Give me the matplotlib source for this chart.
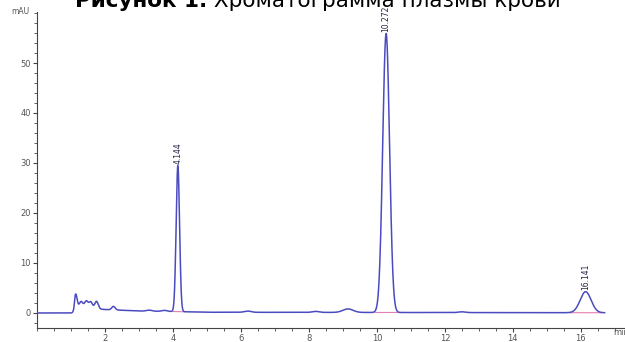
"""Chromatogram of blood plasma (HPLC trace with three labelled peaks)."""

import matplotlib
matplotlib.use("Agg")
import matplotlib.pyplot as plt
import matplotlib.ticker as mticker
import numpy as np

# ---------------------------------------------------------------------------
# Data
# ---------------------------------------------------------------------------
# labelled peaks: retention time (min), height (mAU), width sigma (min)
PEAK_TIMES   = [4.144, 10.272, 16.141]
PEAK_HEIGHTS = [29.2, 55.8, 4.2]
PEAK_SIGMAS  = [0.05, 0.10, 0.16]
PEAK_LABELS  = ["4.144", "10.272", "16.141"]
# integration baseline ends under each peak (min)
BASE_STARTS  = [4.00, 9.95, 15.70]
BASE_ENDS    = [4.32, 10.62, 16.60]

# small unlabelled bumps near the solvent front and along the baseline
BUMP_TIMES   = [1.14, 1.30, 1.45, 1.58, 1.75, 2.25, 3.30, 3.75, 6.20, 8.20, 9.15, 12.50]
BUMP_HEIGHTS = [2.6, 1.2, 1.4, 1.3, 1.5, 0.7, 0.2, 0.2, 0.25, 0.2, 0.7, 0.15]
BUMP_SIGMAS  = [0.04, 0.05, 0.05, 0.05, 0.05, 0.05, 0.08, 0.08, 0.1, 0.1, 0.15, 0.1]

# slowly decaying baseline offset after the injection (time, mAU)
DRIFT_TIMES  = [0.0, 1.08, 1.12, 2.0, 3.0, 4.0, 5.0, 17.0]
DRIFT_VALUES = [0.0, 0.0, 1.2, 0.7, 0.4, 0.3, 0.15, 0.05]

TITLE_BOLD = "Рисунок 1."
TITLE_REST = " Хроматограмма плазмы крови"

LINE_COLOR = "#4b4bc0"
BASE_COLOR = "#e67fb0"
TICK_COLOR = "#444444"


def trace(t):
    y = np.interp(t, DRIFT_TIMES, DRIFT_VALUES)
    for c, h, s in zip(PEAK_TIMES + BUMP_TIMES,
                       PEAK_HEIGHTS + BUMP_HEIGHTS,
                       PEAK_SIGMAS + BUMP_SIGMAS):
        y = y + h * np.exp(-0.5 * ((t - c) / s) ** 2)
    return y


def main() -> None:
    fig = plt.figure(figsize=(6.25, 3.42), dpi=100)
    ax = fig.add_axes([37 / 625, 1 - 328 / 342, 1 - 37 / 625, (328 - 12) / 342])

    t = np.linspace(0, 16.7, 6000)
    y = trace(t)
    ax.plot(t, y, color=LINE_COLOR, linewidth=1.1, zorder=3)

    # integration baselines and peak labels
    for t0, t1, pt, lab in zip(BASE_STARTS, BASE_ENDS, PEAK_TIMES, PEAK_LABELS):
        ax.plot([t0, t1], np.interp([t0, t1], DRIFT_TIMES, DRIFT_VALUES),
                color=BASE_COLOR, linewidth=0.8, zorder=2)
        top = float(trace(np.array([pt]))[0])
        ax.text(pt, top + 0.3, lab, rotation=90, ha="center", va="bottom",
                fontsize=5.5, color="#222244", zorder=4)

    ax.set_xlim(0, 17.3)
    ax.set_ylim(-3, 60.2)
    ax.xaxis.set_minor_locator(mticker.MultipleLocator(0.5))
    ax.yaxis.set_minor_locator(mticker.MultipleLocator(2))
    ax.set_xticks([2, 4, 6, 8, 10, 12, 14, 16])
    ax.set_yticks([0, 10, 20, 30, 40, 50])

    for side in ("top", "right"):
        ax.spines[side].set_visible(False)
    for side in ("left", "bottom"):
        ax.spines[side].set_color(TICK_COLOR)
        ax.spines[side].set_linewidth(0.8)
    ax.tick_params(which="both", direction="out", colors=TICK_COLOR,
                   labelsize=6, labelcolor="#555555")
    ax.tick_params(which="major", length=3, width=0.8, pad=1.5)
    ax.tick_params(which="minor", length=2, width=0.6)

    ax.text(-0.013, 1.0, "mAU", transform=ax.transAxes, ha="right", va="center",
            fontsize=5.5, color="#555555")
    ax.text(17.2, -3, "min", ha="center", va="top", fontsize=6,
            color="#555555", clip_on=False)

    # title: bold lead + regular rest, centred together
    fig.canvas.draw()
    r = fig.canvas.get_renderer()
    tb = fig.text(0, 0.9795, TITLE_BOLD, fontsize=15.5, fontweight="bold", va="baseline")
    tr = fig.text(0, 0.9795, TITLE_REST, fontsize=15.5, va="baseline")
    wb = tb.get_window_extent(r).width
    wr = tr.get_window_extent(r).width
    x0 = 75
    tb.set_x(x0 / fig.bbox.width)
    tr.set_x((x0 + wb) / fig.bbox.width)

    fig.savefig("out.png", dpi=100)
    plt.close(fig)


if __name__ == "__main__":
    main()
